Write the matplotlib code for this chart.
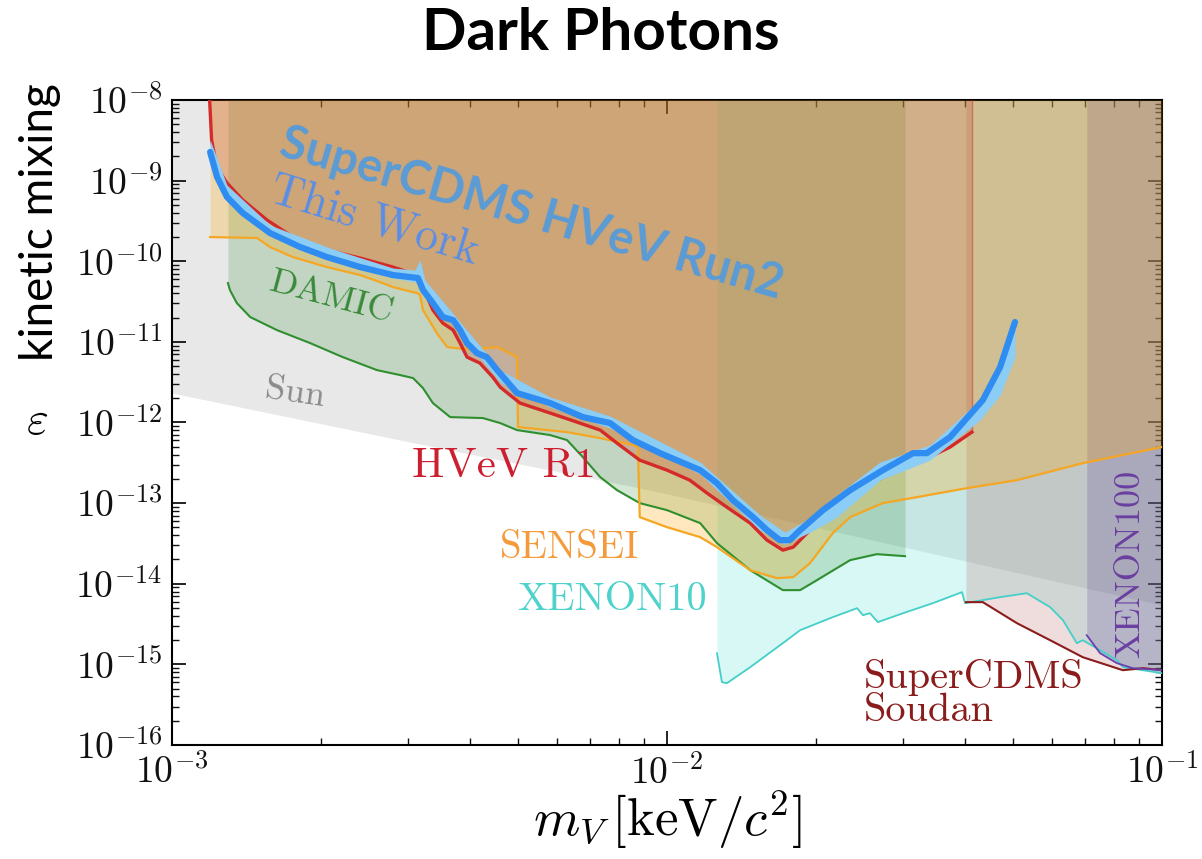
#----- importing modules -----
import numpy as np
import matplotlib.pyplot as plt
from matplotlib.ticker import LogLocator, NullFormatter, FuncFormatter

plt.rcParams['mathtext.fontset'] = 'cm'

#----- data (log10 of mass in keV, log10 of epsilon) -----
sun_logm = [-3.0, -2.539, -2.034, -1.0]
sun_loge = [-11.635, -12.218, -12.839, -14.265]

damic_logm = [-2.887, -2.883, -2.869, -2.842, -2.788, -2.721, -2.655, -2.586, -2.539, -2.513,
              -2.493, -2.473, -2.438, -2.372, -2.337, -2.303, -2.236, -2.202, -2.170, -2.135,
              -2.101, -2.055, -2.000, -1.933, -1.899, -1.832, -1.766, -1.731, -1.697, -1.630,
              -1.576, -1.519]
damic_loge = [-10.270, -10.357, -10.519, -10.692, -10.854, -11.015, -11.189, -11.350, -11.412, -11.449,
              -11.573, -11.759, -11.933, -11.945, -12.007, -12.094, -12.156, -12.218, -12.429, -12.677,
              -12.839, -13.000, -13.087, -13.248, -13.496, -13.831, -14.079, -14.079, -13.955, -13.707,
              -13.633, -13.658]

sensei_logm = [-2.923, -2.828, -2.802, -2.756, -2.687, -2.620, -2.580, -2.554, -2.505, -2.499,
               -2.493, -2.465, -2.444, -2.392, -2.364, -2.343, -2.303, -2.301, -2.202, -2.135,
               -2.069, -2.059, -2.055, -2.000, -1.933, -1.899, -1.832, -1.778, -1.745, -1.711,
               -1.665, -1.630, -1.564, -1.495, -1.394, -1.293, -1.160, -1.0]
sensei_loge = [-9.700, -9.712, -9.824, -9.948, -10.072, -10.171, -10.258, -10.320, -10.395, -10.419,
               -10.605, -10.891, -11.065, -11.102, -11.077, -11.065, -11.189, -12.057, -12.119, -12.194,
               -12.280, -12.305, -13.174, -13.298, -13.422, -13.546, -13.831, -13.931, -13.918, -13.744,
               -13.372, -13.174, -13.000, -12.926, -12.814, -12.715, -12.504, -12.305]

r1_logm = [-2.925, -2.920, -2.910, -2.889, -2.857, -2.808, -2.756, -2.687, -2.620, -2.554,
           -2.505, -2.493, -2.473, -2.453, -2.432, -2.418, -2.404, -2.378, -2.352, -2.337,
           -2.297, -2.236, -2.182, -2.135, -2.101, -2.055, -2.000, -1.954, -1.919, -1.879,
           -1.832, -1.798, -1.766, -1.745, -1.717, -1.665, -1.630, -1.590, -1.529, -1.483,
           -1.428, -1.384]
r1_loge = [-7.876, -8.496, -8.828, -9.030, -9.241, -9.489, -9.700, -9.861, -9.960, -10.072,
           -10.171, -10.320, -10.605, -10.767, -10.854, -11.015, -11.189, -11.263, -11.437, -11.561,
           -11.759, -11.883, -11.995, -12.094, -12.256, -12.467, -12.591, -12.715, -12.876, -13.050,
           -13.248, -13.459, -13.583, -13.546, -13.372, -13.050, -12.839, -12.752, -12.591, -12.467,
           -12.305, -12.119]

xe10_logm = [-1.899, -1.889, -1.879, -1.832, -1.766, -1.731, -1.665, -1.616, -1.604, -1.590,
             -1.574, -1.523, -1.463, -1.404, -1.398, -1.362, -1.327, -1.273, -1.226, -1.200,
             -1.172, -1.160, -1.125, -1.091, -1.079, -1.0]
xe10_loge = [-14.861, -15.221, -15.233, -15.035, -14.737, -14.576, -14.414, -14.303, -14.390, -14.365,
             -14.476, -14.365, -14.241, -14.104, -14.241, -14.203, -14.166, -14.117, -14.290, -14.452,
             -14.737, -14.700, -14.824, -14.948, -15.035, -15.109]

soudan_logm = [-1.396, -1.362, -1.293, -1.226, -1.160, -1.079, -1.038, -1.0]
soudan_loge = [-14.228, -14.228, -14.489, -14.700, -14.911, -15.072, -15.047, -15.072]

xe100_logm = [-1.152, -1.125, -1.091, -1.059, -1.0]
xe100_loge = [-14.638, -14.861, -14.985, -15.047, -15.072]

# This Work (HVeV Run2) limit and its band
run2_logm = [-2.923, -2.909, -2.889, -2.857, -2.802, -2.741, -2.687, -2.620, -2.554, -2.503,
             -2.493, -2.473, -2.453, -2.432, -2.418, -2.404, -2.384, -2.364, -2.343, -2.303,
             -2.236, -2.170, -2.115, -2.069, -2.014, -1.933, -1.899, -1.867, -1.826, -1.798,
             -1.772, -1.752, -1.731, -1.685, -1.630, -1.564, -1.503, -1.475, -1.428, -1.362,
             -1.327, -1.297]
run2_loge = [-8.645, -8.955, -9.203, -9.402, -9.650, -9.824, -9.948, -10.072, -10.171, -10.208,
             -10.357, -10.519, -10.692, -10.730, -10.854, -11.015, -11.139, -11.189, -11.350, -11.635,
             -11.759, -11.933, -12.007, -12.218, -12.380, -12.591, -12.752, -12.963, -13.174, -13.335,
             -13.459, -13.459, -13.335, -13.087, -12.839, -12.591, -12.380, -12.380, -12.181, -11.722,
             -11.313, -10.754]
band_logm = [-2.923, -2.889, -2.802, -2.681, -2.554, -2.509, -2.499, -2.489, -2.418, -2.337,
             -2.236, -2.115, -1.933, -1.812, -1.762, -1.711, -1.657, -1.570, -1.469, -1.368,
             -1.327, -1.297]
band_hi = [-8.496, -9.055, -9.551, -9.836, -10.084, -10.109, -9.985, -10.233, -10.754, -11.350,
           -11.685, -11.921, -12.491, -13.149, -13.360, -13.186, -12.901, -12.491, -12.280, -11.722,
           -11.325, -10.730]
band_lo = [-8.806, -9.241, -9.687, -9.985, -10.208, -10.258, -10.295, -10.419, -10.891, -11.499,
           -11.809, -12.069, -12.640, -13.335, -13.509, -13.360, -13.174, -12.715, -12.467, -11.970,
           -11.660, -11.189]

W, H = 1202, 859
def px(x, y):
    return x / W, 1 - y / H

#----- plotting -----
fig = plt.figure(figsize=(W / 100, H / 100), dpi=100)
ax = fig.add_axes([0.1431, 0.1327, 0.8236, 0.7509])
ax.set_xscale('log')
ax.set_yscale('log')
ymin, ymax = 1e-16, 1e-8
ax.set_xlim(1e-3, 1e-1)
ax.set_ylim(ymin, ymax)

def P(a):
    return 10 ** np.array(a)

# shaded excluded regions
ax.fill_between(P(sun_logm), P(sun_loge), ymax, color='#000000', alpha=0.09, lw=0, zorder=1)
ax.fill_between(P(xe10_logm), P(xe10_loge), ymax, color='#40e0d0', alpha=0.2, lw=0, zorder=2)
ax.fill_between(P(soudan_logm), P(soudan_loge), ymax, color='#b05050', alpha=0.2, lw=0, zorder=2)
ax.fill_between(P(xe100_logm), P(xe100_loge), ymax, color='#5a3c9c', alpha=0.22, lw=0, zorder=2)
ax.fill_between(P(damic_logm), P(damic_loge), ymax, color='#2e8b2e', alpha=0.2, lw=0, zorder=3)
ax.fill_between(P(sensei_logm), P(sensei_loge), ymax, color='#ffa500', alpha=0.25, lw=0, zorder=3)
ax.fill_between(P(r1_logm), P(r1_loge), ymax, color='#c84028', alpha=0.25, lw=0, zorder=3)

# limit curves
ax.plot(P(xe10_logm), P(xe10_loge), color='#45cfc8', lw=1.3, zorder=5)
ax.plot(P(soudan_logm), P(soudan_loge), color='#8b1c1c', lw=1.5, zorder=5)
ax.plot(P(xe100_logm), P(xe100_loge), color='#6a3fb0', lw=1.3, zorder=5)
ax.plot(P(damic_logm), P(damic_loge), color='#2f8f2f', lw=1.5, zorder=5)
ax.plot(P(sensei_logm), P(sensei_loge), color='#f5a623', lw=1.6, zorder=5)
ax.plot([10 ** r1_logm[-1]] * 2, [10 ** r1_loge[-1], ymax], color='#c83030', lw=1.0, alpha=0.5, zorder=5)
ax.plot(P(r1_logm), P(r1_loge), color='#d42a2a', lw=2.4, zorder=6)

# this work
ax.fill_between(P(band_logm), P(band_lo), P(band_hi), color='#8ccdf5', lw=0, zorder=7)
ax.plot(P(run2_logm), P(run2_loge), color='#2f8cf0', lw=4.5, zorder=8, solid_capstyle='round')

#----- axes styling -----
sci = FuncFormatter(lambda v, pos: r'$10^{%d}$' % round(np.log10(v)))
ax.xaxis.set_major_locator(LogLocator(base=10, numticks=20))
ax.yaxis.set_major_locator(LogLocator(base=10, numticks=20))
ax.xaxis.set_major_formatter(sci)
ax.yaxis.set_major_formatter(sci)
ax.xaxis.set_minor_locator(LogLocator(base=10, subs=np.arange(2, 10), numticks=100))
ax.yaxis.set_minor_locator(LogLocator(base=10, subs=np.arange(2, 10), numticks=100))
ax.xaxis.set_minor_formatter(NullFormatter())
ax.yaxis.set_minor_formatter(NullFormatter())
ax.tick_params(which='both', direction='in', top=True, right=True, colors='#111111')
ax.tick_params(which='major', length=10, width=1.3, labelsize=27, pad=7)
ax.tick_params(which='minor', length=5, width=1.0)
for s in ax.spines.values():
    s.set_linewidth(1.5)

#----- labels -----
cm = 'cmr10'
ax_txt = dict(ha='center', va='center', rotation_mode='anchor')
fig.text(*px(532, 214), 'SuperCDMS HVeV Run2', family='Lato', weight='bold', size=34,
         color='#5b9bd5', rotation=-16, zorder=20, **ax_txt)
fig.text(*px(374, 222), 'This Work', family=cm, size=33, color='#5a8ee6', rotation=-17, zorder=20, **ax_txt)
fig.text(*px(331, 298), 'DAMIC', family=cm, size=26, color='#3a8a3a', rotation=-15, zorder=20, **ax_txt)
fig.text(*px(295, 393), 'Sun', family=cm, size=26, color='#8a8a8a', rotation=-8, zorder=20, **ax_txt)
fig.text(*px(504, 466), 'HVeV R1', family=cm, size=31, color='#cc2030', zorder=20, **ax_txt)
fig.text(*px(570, 548), 'SENSEI', family=cm, size=28, color='#f59a3a', zorder=20, **ax_txt)
fig.text(*px(612, 600), 'XENON10', family=cm, size=29, color='#4fd2cc', zorder=20, **ax_txt)
fig.text(*px(864, 678), 'SuperCDMS', family=cm, size=29, color='#8b1c1c', ha='left', va='center', zorder=20)
fig.text(*px(864, 711), 'Soudan', family=cm, size=29, color='#8b1c1c', ha='left', va='center', zorder=20)
fig.text(*px(1130, 564), 'XENON100', family=cm, size=26, color='#6a3fa0', rotation=90, zorder=20, **ax_txt)

fig.text(*px(601, 33), 'Dark Photons', family='Lato', weight='bold', size=42, ha='center', va='center')
fig.text(*px(40, 222), 'kinetic mixing', family='Lato', size=33, rotation=90, ha='center', va='center')
fig.text(*px(37, 421), r'$\varepsilon$', size=34, ha='center', va='center')
fig.text(*px(668, 820), r'$m_V\,[\mathrm{keV}/c^2]$', size=38, ha='center', va='center')

fig.savefig('out.png', dpi=100)
